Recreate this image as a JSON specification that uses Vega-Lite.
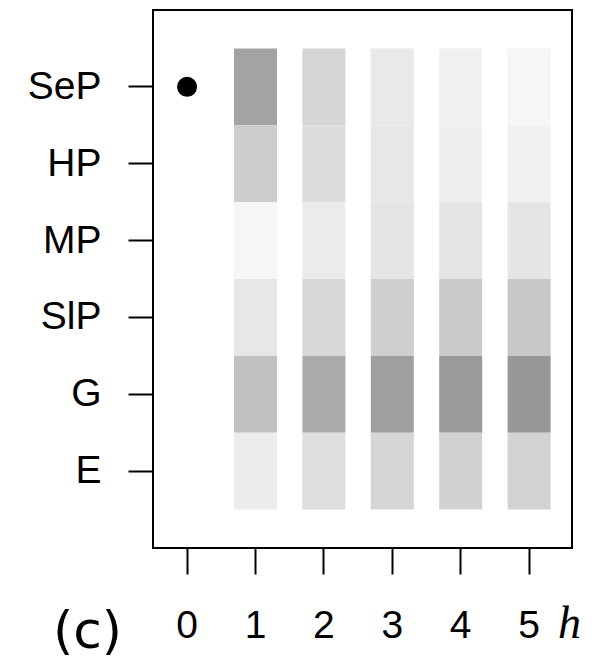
{
  "$schema": "https://vega.github.io/schema/vega-lite/v6.json",
  "autosize": "none",
  "width": 419,
  "height": 538,
  "padding": {"left": 153, "top": 10, "right": 30, "bottom": 110},
  "background": "white",
  "config": {
    "view": {"stroke": "black", "strokeWidth": 2},
    "font": "Liberation Sans"
  },
  "datasets": {
    "cells": [
      {"h": 1, "model": "SeP", "p": 0.361},
      {"h": 1, "model": "HP", "p": 0.196},
      {"h": 1, "model": "MP", "p": 0.035},
      {"h": 1, "model": "SlP", "p": 0.094},
      {"h": 1, "model": "G", "p": 0.239},
      {"h": 1, "model": "E", "p": 0.075},
      {"h": 2, "model": "SeP", "p": 0.165},
      {"h": 2, "model": "HP", "p": 0.133},
      {"h": 2, "model": "MP", "p": 0.078},
      {"h": 2, "model": "SlP", "p": 0.153},
      {"h": 2, "model": "G", "p": 0.329},
      {"h": 2, "model": "E", "p": 0.129},
      {"h": 3, "model": "SeP", "p": 0.086},
      {"h": 3, "model": "HP", "p": 0.094},
      {"h": 3, "model": "MP", "p": 0.102},
      {"h": 3, "model": "SlP", "p": 0.188},
      {"h": 3, "model": "G", "p": 0.376},
      {"h": 3, "model": "E", "p": 0.161},
      {"h": 4, "model": "SeP", "p": 0.059},
      {"h": 4, "model": "HP", "p": 0.063},
      {"h": 4, "model": "MP", "p": 0.106},
      {"h": 4, "model": "SlP", "p": 0.204},
      {"h": 4, "model": "G", "p": 0.396},
      {"h": 4, "model": "E", "p": 0.180},
      {"h": 5, "model": "SeP", "p": 0.035},
      {"h": 5, "model": "HP", "p": 0.059},
      {"h": 5, "model": "MP", "p": 0.102},
      {"h": 5, "model": "SlP", "p": 0.216},
      {"h": 5, "model": "G", "p": 0.408},
      {"h": 5, "model": "E", "p": 0.176}
    ],
    "start": [
      {"h": 0, "model": "SeP"}
    ]
  },
  "encoding": {
    "x": {
      "field": "h",
      "type": "ordinal",
      "scale": {"domain": [0, 1, 2, 3, 4, 5], "paddingInner": 0.371, "paddingOuter": 0.248, "align": 0.37},
      "axis": {
        "title": "h",
        "titleFont": "Liberation Serif",
        "titleFontStyle": "italic",
        "titleFontWeight": "normal",
        "titleFontSize": 46,
        "titleColor": "black",
        "titleAnchor": null,
        "titleX": 416,
        "titleY": 89,
        "titleAlign": "center",
        "titleBaseline": "alphabetic",
        "labelAngle": 0,
        "labelFontSize": 39,
        "labelColor": "black",
        "labelPadding": 32,
        "tickSize": 26,
        "tickWidth": 2,
        "tickColor": "black",
        "domain": false,
        "grid": false
      }
    },
    "y": {
      "field": "model",
      "type": "nominal",
      "sort": ["SeP", "HP", "MP", "SlP", "G", "E"],
      "scale": {"paddingInner": 0, "paddingOuter": 0.5},
      "axis": {
        "title": "(c)",
        "titleFont": "DejaVu Sans",
        "titleFontWeight": "normal",
        "titleFontSize": 52,
        "titleColor": "black",
        "titleAngle": 0,
        "titleAnchor": null,
        "titleX": -66,
        "titleY": 637,
        "titleAlign": "center",
        "titleBaseline": "alphabetic",
        "labelFontSize": 39,
        "labelColor": "black",
        "labelPadding": 27,
        "tickSize": 25,
        "tickWidth": 2,
        "tickColor": "black",
        "domain": false,
        "grid": false
      }
    }
  },
  "layer": [
    {
      "data": {"name": "cells"},
      "mark": {"type": "rect"},
      "encoding": {
        "color": {
          "field": "p",
          "type": "quantitative",
          "scale": {"domain": [0, 1], "range": ["#ffffff", "#000000"], "interpolate": "rgb"},
          "legend": null
        }
      }
    },
    {
      "data": {"name": "start"},
      "mark": {"type": "point", "filled": true, "color": "black", "size": 400, "opacity": 1}
    }
  ]
}
